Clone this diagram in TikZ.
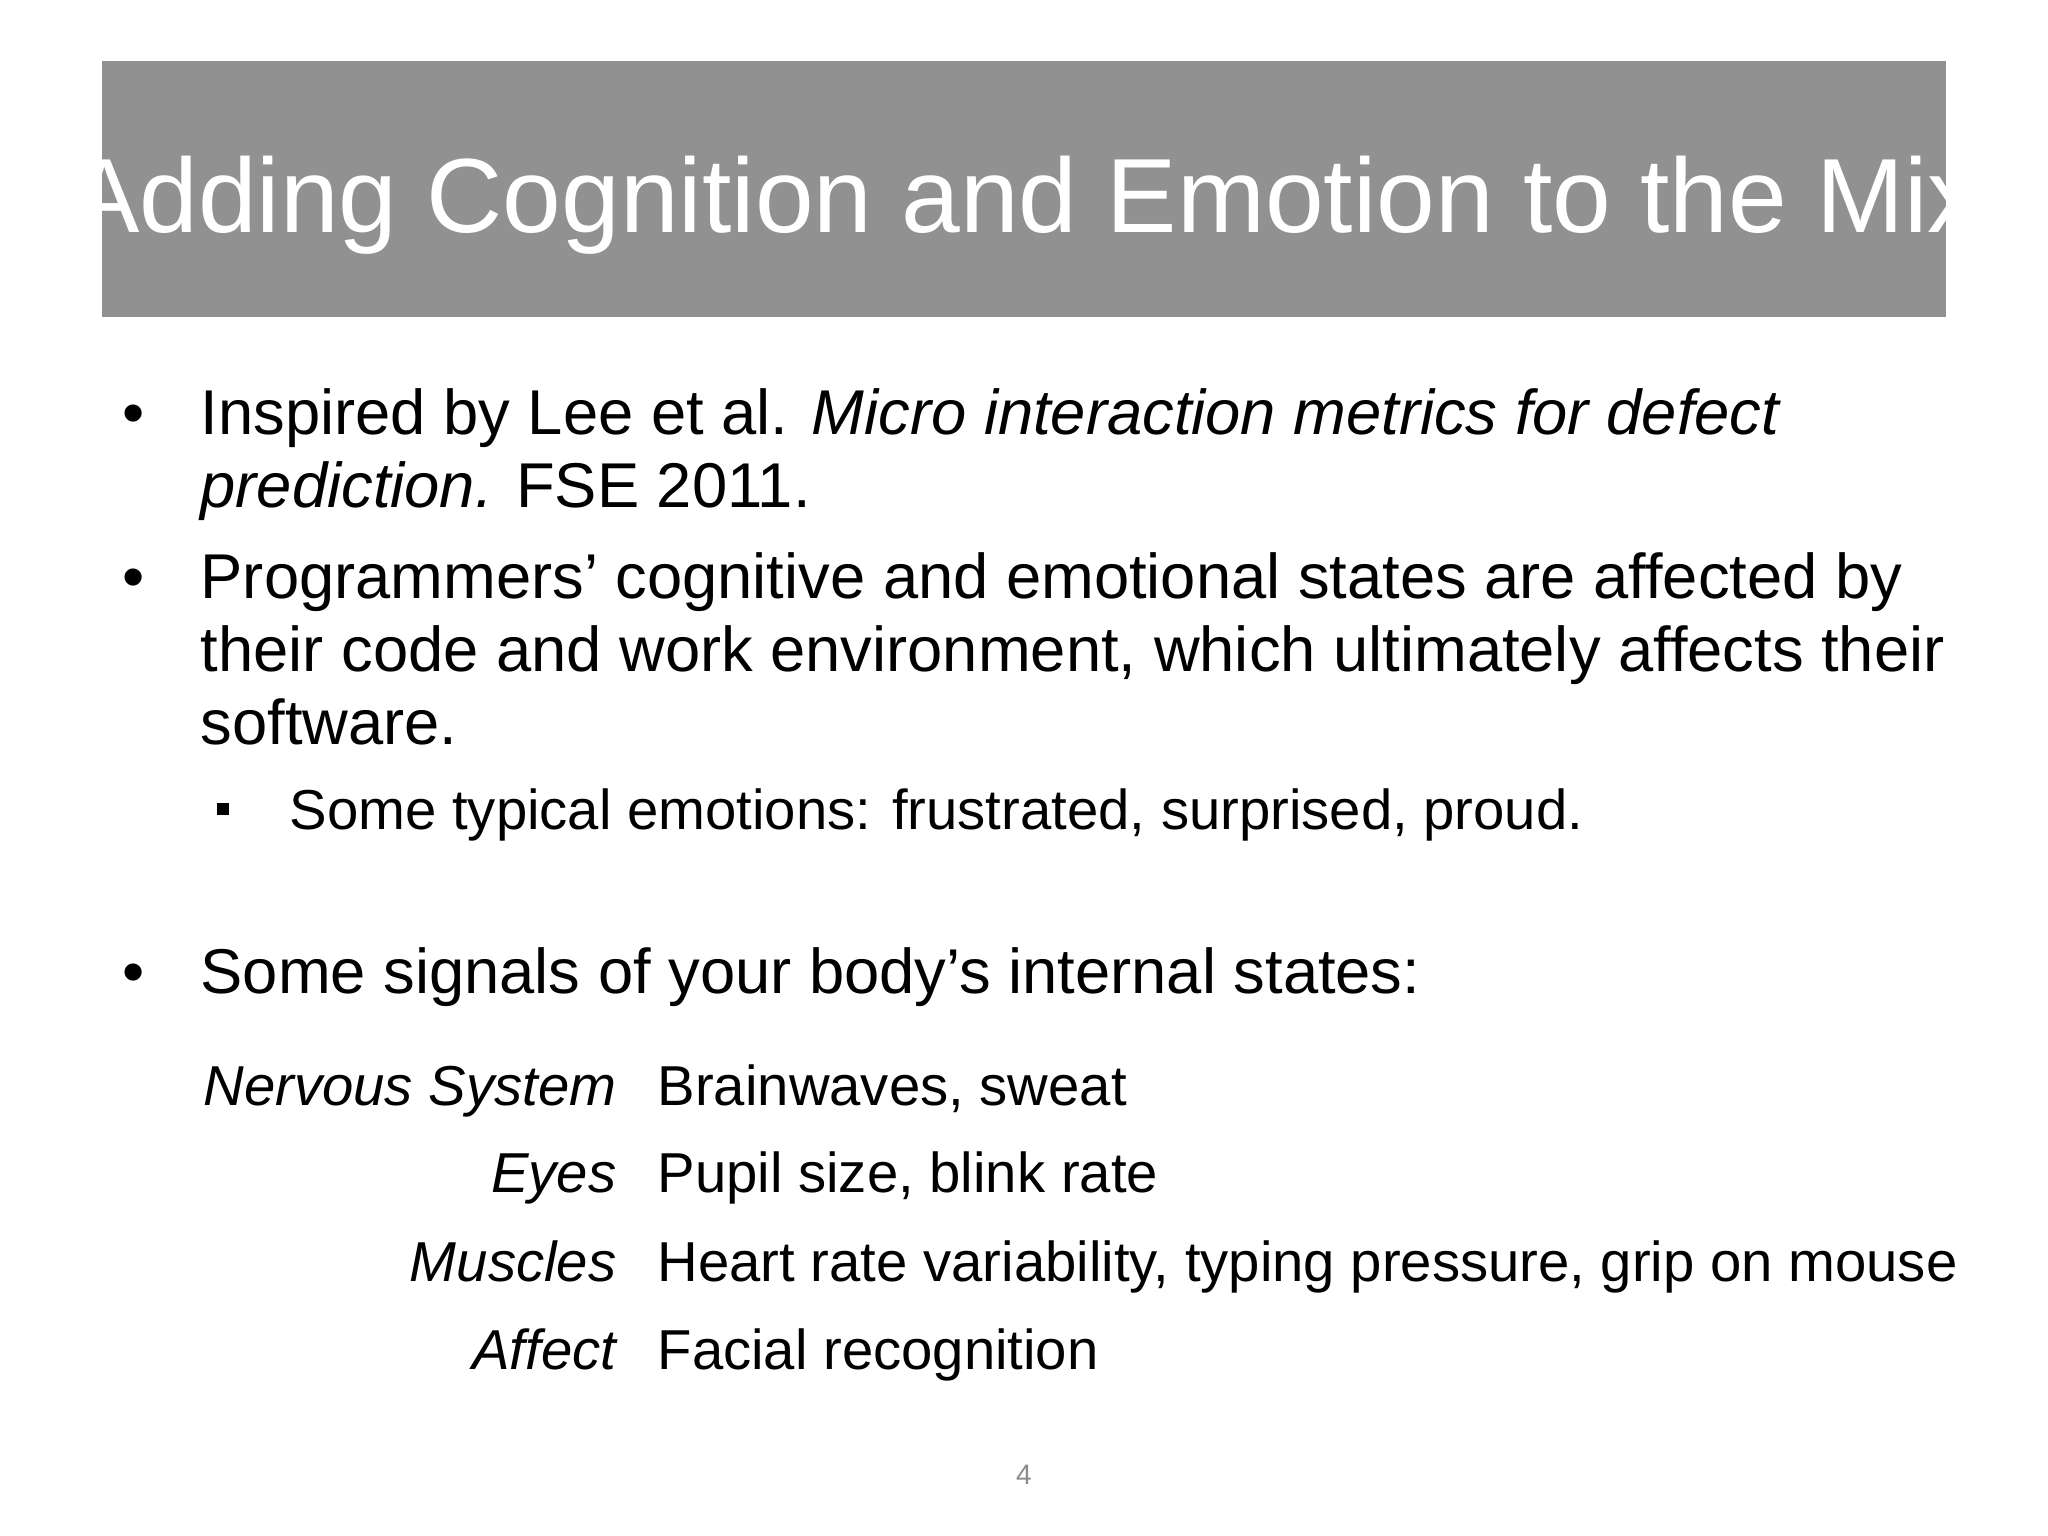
\documentclass[tikz,border=0pt]{standalone}
\usepackage{fontspec}
\setmainfont{Liberation Sans}
\begin{document}
\begin{tikzpicture}[x=0.01cm,y=-0.01cm,
  txt/.style={anchor=base west,inner sep=0pt,font=\fontsize{18}{22}\selectfont},
  lab/.style={anchor=base east,inner sep=0pt,font=\fontsize{16}{20}\selectfont\itshape},
  val/.style={anchor=base west,inner sep=0pt,font=\fontsize{16}{20}\selectfont},
  bul/.style={anchor=base,inner sep=0pt,font=\fontsize{18}{22}\selectfont}]
\useasboundingbox (0,0) rectangle (2048,1536);
\fill[white] (0,0) rectangle (2048,1536);
\fill[black!43] (102,61) rectangle (1946,317);
\node[anchor=base,inner sep=0pt,text=white,font=\fontsize{30}{36}\selectfont] (title) at (1025,232) {Adding Cognition and Emotion to the Mix};
\node[bul] (b1) at (134,434) {•};
\node[txt] (l1) at (200,434) {Inspired by Lee et al. \textit{Micro interaction metrics for defect}};
\node[txt] (l2) at (200,507) {\textit{prediction.} FSE 2011.};
\node[bul] (b2) at (134,598) {•};
\node[txt] (l3) at (200,598) {Programmers’ cognitive and emotional states are affected by};
\node[txt] (l4) at (200,671) {their code and work environment, which ultimately affects their};
\node[txt] (l5) at (200,744) {software.};
\fill (217,803) rectangle (229,815);
\node[txt,font=\fontsize{16}{20}\selectfont] (s1) at (289,829) {Some typical emotions: frustrated, surprised, proud.};
\node[bul] (b3) at (134,993) {•};
\node[txt] (l6) at (200,993) {Some signals of your body’s internal states:};
\node[lab] (k1) at (617,1105) {Nervous System};
\node[val] (v1) at (657,1105) {Brainwaves, sweat};
\node[lab] (k2) at (617,1192) {Eyes};
\node[val] (v2) at (657,1192) {Pupil size, blink rate};
\node[lab] (k3) at (617,1281) {Muscles};
\node[val] (v3) at (657,1281) {Heart rate variability, typing pressure, grip on mouse};
\node[lab] (k4) at (617,1369) {Affect};
\node[val] (v4) at (657,1369) {Facial recognition};
\node[anchor=base,inner sep=0pt,text=black!45,font=\fontsize{8}{10}\selectfont] (pg) at (1024,1484) {4};
\end{tikzpicture}
\end{document}
